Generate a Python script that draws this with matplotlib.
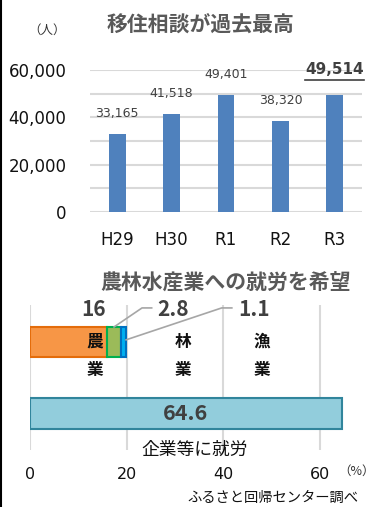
import numpy as np
import matplotlib
matplotlib.use("Agg")
import matplotlib.pyplot as plt
from matplotlib.ticker import FuncFormatter

plt.rcParams['font.family'] = ['Noto Sans CJK JP', 'DejaVu Sans']

# 移住相談件数
years = ['H29', 'H30', 'R1', 'R2', 'R3']
consults = [33165, 41518, 49401, 38320, 49514]

# 就労希望 (%)
agri = 16
forest = 2.8
fish = 1.1
company = 64.6

W, H = 374, 507
fig = plt.figure(figsize=(W / 100, H / 100), dpi=100)

def fx(px):
    return px / W

def fy(py):
    return 1 - py / H

lat = ['DejaVu Sans']

# ---- 上のグラフ ----
ax1 = fig.add_axes([fx(90), fy(212), fx(362) - fx(90), fy(70) - fy(212)])
x = np.arange(len(years))
ax1.bar(x, consults, width=0.31, color='#4F81BD', zorder=3)
ax1.set_xlim(-0.5, len(years) - 0.5)
ax1.set_ylim(0, 60000)
ax1.set_yticks(np.arange(0, 60001, 10000))
ax1.yaxis.set_major_formatter(FuncFormatter(lambda v, p: f"{int(v):,}" if v % 20000 == 0 else ""))
ax1.grid(axis='y', color='#D9D9D9', linewidth=1.5, zorder=0)
ax1.set_xticks(x)
ax1.set_xticklabels(years, fontsize=12, family=lat)
for lab in ax1.get_yticklabels():
    lab.set_family(lat)
    lab.set_fontsize(12)
ax1.tick_params(axis='y', length=0, pad=17, labelcolor='#111111')
ax1.tick_params(axis='x', length=0, pad=14, labelcolor='#111111')
for s in ax1.spines.values():
    s.set_visible(False)

for i, v in enumerate(consults):
    if i == len(consults) - 1:
        ax1.annotate(f"{v:,}", (i, 60000), xytext=(0, 0), textcoords='offset points',
                     ha='center', va='center', fontsize=11, fontweight='bold',
                     color='#404040', family=lat, annotation_clip=False)
    else:
        ax1.annotate(f"{v:,}", (i, v), xytext=(0, 10),
                     textcoords='offset points', ha='center', va='bottom', fontsize=9,
                     color='#404040', family=lat)
# 最後のラベルの下線
fig.add_artist(plt.Line2D([fx(305), fx(364)], [fy(79.5), fy(79.5)], color='#404040', lw=1.2))

fig.text(fx(201), fy(25), '移住相談が過去最高', ha='center', va='center',
         fontsize=15, fontweight='bold', color='#595959')
fig.text(fx(47), fy(30), '（人）', ha='center', va='center', fontsize=9, color='#333333')

# ---- 下のグラフ ----
ax2 = fig.add_axes([fx(30), fy(450), fx(368) - fx(30), fy(305) - fy(450)])
ax2.set_xlim(0, 70)
ax2.set_ylim(-0.51, 1.517)
bh = 0.42
ax2.barh(1, agri, height=bh, color='#F79646', edgecolor='#E46C0A', lw=1.5, zorder=3)
ax2.barh(1, forest, left=agri, height=bh, color='#9BBB59', edgecolor='#00B050', lw=1.5, zorder=3)
ax2.barh(1, fish, left=agri + forest, height=bh, color='#00B0F0', edgecolor='#0070C0', lw=1.5, zorder=3)
ax2.barh(0, company, height=bh, color='#92CDDC', edgecolor='#31859C', lw=1.5, zorder=3)
ax2.set_xticks([0, 20, 40, 60])
ax2.set_xticklabels(['0', '20', '40', '60'], fontsize=11.5, family=lat)
ax2.set_yticks([])
ax2.grid(axis='x', color='#D9D9D9', linewidth=1.5, zorder=0)
ax2.tick_params(axis='x', length=0, pad=12, labelcolor='#111111')
for s in ax2.spines.values():
    s.set_visible(False)

ytop = 1 + bh / 2
for xx, v in [(13.2, agri), (29.6, forest), (46.3, fish)]:
    ax2.text(xx, 1.45, f"{v}", ha='center', va='center', fontsize=15,
             fontweight='bold', color='#404040')
ax2.plot([agri + forest / 2, 23.2, 25.2], [ytop, 1.476, 1.476], color='#A6A6A6', lw=1.2, zorder=4)
ax2.plot([agri + forest + fish, 39.7, 41.8], [1.03, 1.476, 1.476], color='#A6A6A6', lw=1.2, zorder=4)

for xx, t in [(13.4, '農業'), (31.7, '林業'), (48.0, '漁業')]:
    ax2.text(xx, 1.0, t[0], ha='center', va='center', fontsize=12, fontweight='bold', color='#111111', zorder=5)
    ax2.text(xx, 0.61, t[1], ha='center', va='center', fontsize=12, fontweight='bold', color='#111111', zorder=5)

ax2.text(company / 2, 0, f"{company}", ha='center', va='center', fontsize=15.5,
         fontweight='bold', color='#404040', zorder=5)
ax2.text(34.1, -0.51, '企業等に就労', ha='center', va='center', fontsize=12.8, color='#111111')

fig.text(fx(226), fy(283), '農林水産業への就労を希望', ha='center', va='center',
         fontsize=15, fontweight='bold', color='#595959')
fig.text(fx(357), fy(471), '（%）', ha='center', va='center', fontsize=9, color='#333333')
fig.text(fx(358), fy(498), 'ふるさと回帰センター調べ', ha='right', va='center', fontsize=10.3, color='#111111')

# 左の枠線
fig.add_artist(plt.Line2D([fx(0.8), fx(0.8)], [0, 1], color='black', lw=1.5))

fig.savefig('out.png', dpi=100)
